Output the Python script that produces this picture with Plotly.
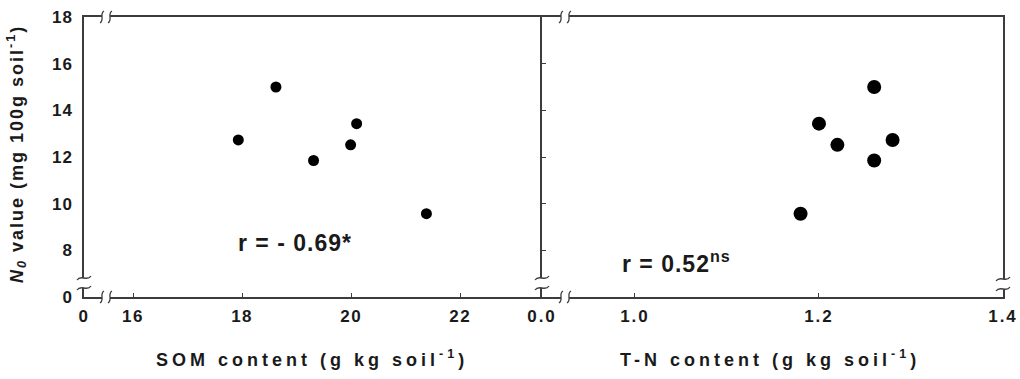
import plotly.graph_objects as go

# ---------------- data ----------------
n0_value = [15.0, 12.73, 11.85, 12.52, 13.43, 9.57]
som_content = [18.62, 17.93, 19.31, 19.99, 20.10, 21.38]
tn_content = [1.26, 1.28, 1.26, 1.22, 1.20, 1.18]

y_tickvals = [6, 8, 10, 12, 14, 16, 18]
y_ticktext = ["0", "8", "10", "12", "14", "16", "18"]
som_tickvals = [15.1, 16, 18, 20, 22]
som_ticktext = ["0", "16", "18", "20", "22"]
tn_tickvals = [0.899, 1.0, 1.2, 1.4]
tn_ticktext = ["0.0", "1.0", "1.2", "1.4"]

r_som = "r = - 0.69*"
r_tn = "r = 0.52<sup>ns</sup>"

# ---------------- layout helpers ----------------
W, H = 1020, 379
FONT = "Liberation Sans, Arial, sans-serif"
LINE = "#3c3c3c"
TXT = "#1a1a1a"


def px(x):
    return x / W


def py(y):
    return 1 - y / H


def ls(text, sp):
    return f"<span style='letter-spacing:{sp}px'>{text}</span>"


shapes = []


def hbreak(cx, cy):
    # break on a horizontal axis line: two vertical S-squiggles
    shapes.append(dict(type="rect", xref="paper", yref="paper",
                       x0=px(cx - 4), x1=px(cx + 4), y0=py(cy + 2), y1=py(cy - 2),
                       fillcolor="white", line=dict(width=0), layer="above"))
    for sx in (cx - 4, cx + 4):
        p = (f"M {px(sx + 2):.5f},{py(cy - 6):.5f} "
             f"C {px(sx - 3):.5f},{py(cy - 3):.5f} {px(sx + 3):.5f},{py(cy + 3):.5f} "
             f"{px(sx - 2):.5f},{py(cy + 6):.5f}")
        shapes.append(dict(type="path", xref="paper", yref="paper", path=p,
                           line=dict(color=LINE, width=1.3), layer="above"))


def vbreak(cx, cy):
    # break on a vertical axis line: two horizontal tilde squiggles
    shapes.append(dict(type="rect", xref="paper", yref="paper",
                       x0=px(cx - 2), x1=px(cx + 2), y0=py(cy + 5), y1=py(cy - 5),
                       fillcolor="white", line=dict(width=0), layer="above"))
    for sy in (cy - 5, cy + 5):
        p = (f"M {px(cx - 7):.5f},{py(sy + 2):.5f} "
             f"C {px(cx - 3):.5f},{py(sy - 4):.5f} {px(cx + 3):.5f},{py(sy + 4):.5f} "
             f"{px(cx + 7):.5f},{py(sy - 2):.5f}")
        shapes.append(dict(type="path", xref="paper", yref="paper", path=p,
                           line=dict(color=LINE, width=1.3), layer="above"))


hbreak(106, 17)
hbreak(106, 297)
hbreak(565, 17)
hbreak(565, 297)
vbreak(84, 283)
vbreak(542, 283)
vbreak(1003, 284)

# ---------------- figure ----------------
fig = go.Figure()
fig.add_trace(go.Scatter(x=som_content, y=n0_value, mode="markers",
                         marker=dict(color="black", size=11),
                         xaxis="x", yaxis="y", showlegend=False, cliponaxis=False))
fig.add_trace(go.Scatter(x=tn_content, y=n0_value, mode="markers",
                         marker=dict(color="black", size=14),
                         xaxis="x2", yaxis="y2", showlegend=False, cliponaxis=False))

tickfont = dict(family=FONT, size=17, color=TXT, weight="bold")
common = dict(showgrid=False, zeroline=False, showline=True, linecolor=LINE,
              linewidth=1.5, tickcolor=LINE, tickfont=tickfont, automargin=False)

y_dom = [py(297), py(17)]

fig.update_layout(
    width=W, height=H,
    margin=dict(l=0, r=0, t=0, b=0, autoexpand=False),
    paper_bgcolor="white", plot_bgcolor="white",
    showlegend=False,
    xaxis=dict(domain=[px(84), px(542)], range=[15.1, 23.5], anchor="y",
               tickmode="array", tickvals=som_tickvals,
               ticktext=[ls(t, 1.5) for t in som_ticktext], mirror=True,
               ticks="inside", ticklen=4, tickwidth=1.2, ticklabelstandoff=3, **common),
    yaxis=dict(domain=y_dom, range=[6, 18], anchor="x",
               tickmode="array", tickvals=y_tickvals, mirror=False,
               ticktext=[ls(t, 1) for t in y_ticktext],
               ticks="", ticklabelstandoff=6, **common),
    xaxis2=dict(domain=[px(542), px(1003)], range=[0.899, 1.4], anchor="y2",
                tickmode="array", tickvals=tn_tickvals, mirror=True,
                ticktext=[ls(t, 2) for t in tn_ticktext],
                ticks="inside", ticklen=4, tickwidth=1.2, ticklabelstandoff=3, **common),
    yaxis2=dict(domain=y_dom, range=[6, 18], anchor="x2",
                tickmode="array", tickvals=y_tickvals, showticklabels=False, mirror=True,
                ticks="inside", ticklen=4, tickwidth=1.2, **common),
    shapes=shapes,
)

title_font = dict(family=FONT, size=18, color=TXT)
annos = [
    dict(x=px(312), y=py(358), text="<b>" + ls("SOM content (g kg soil<sup>-1</sup>)", 4) + "</b>",
         font=title_font),
    dict(x=px(770), y=py(358), text="<b>" + ls("T-N content (g kg soil<sup>-1</sup>)", 4) + "</b>",
         font=title_font),
    dict(x=px(17), y=py(154), textangle=-90,
         text="<b>" + ls("<i>N</i><sub><i>0</i></sub> value (mg 100g soil<sup>-1</sup>)", 2) + "</b>",
         font=title_font),
    dict(x=px(295), y=py(243), text="<b>" + ls(r_som, 1) + "</b>",
         font=dict(family=FONT, size=23, color=TXT)),
    dict(x=px(676), y=py(262), text="<b>" + ls(r_tn, 1) + "</b>",
         font=dict(family=FONT, size=23, color=TXT)),
]
for a in annos:
    a.update(xref="paper", yref="paper", showarrow=False, xanchor="center", yanchor="middle")
fig.update_layout(annotations=annos)

fig.write_html("out.html")
